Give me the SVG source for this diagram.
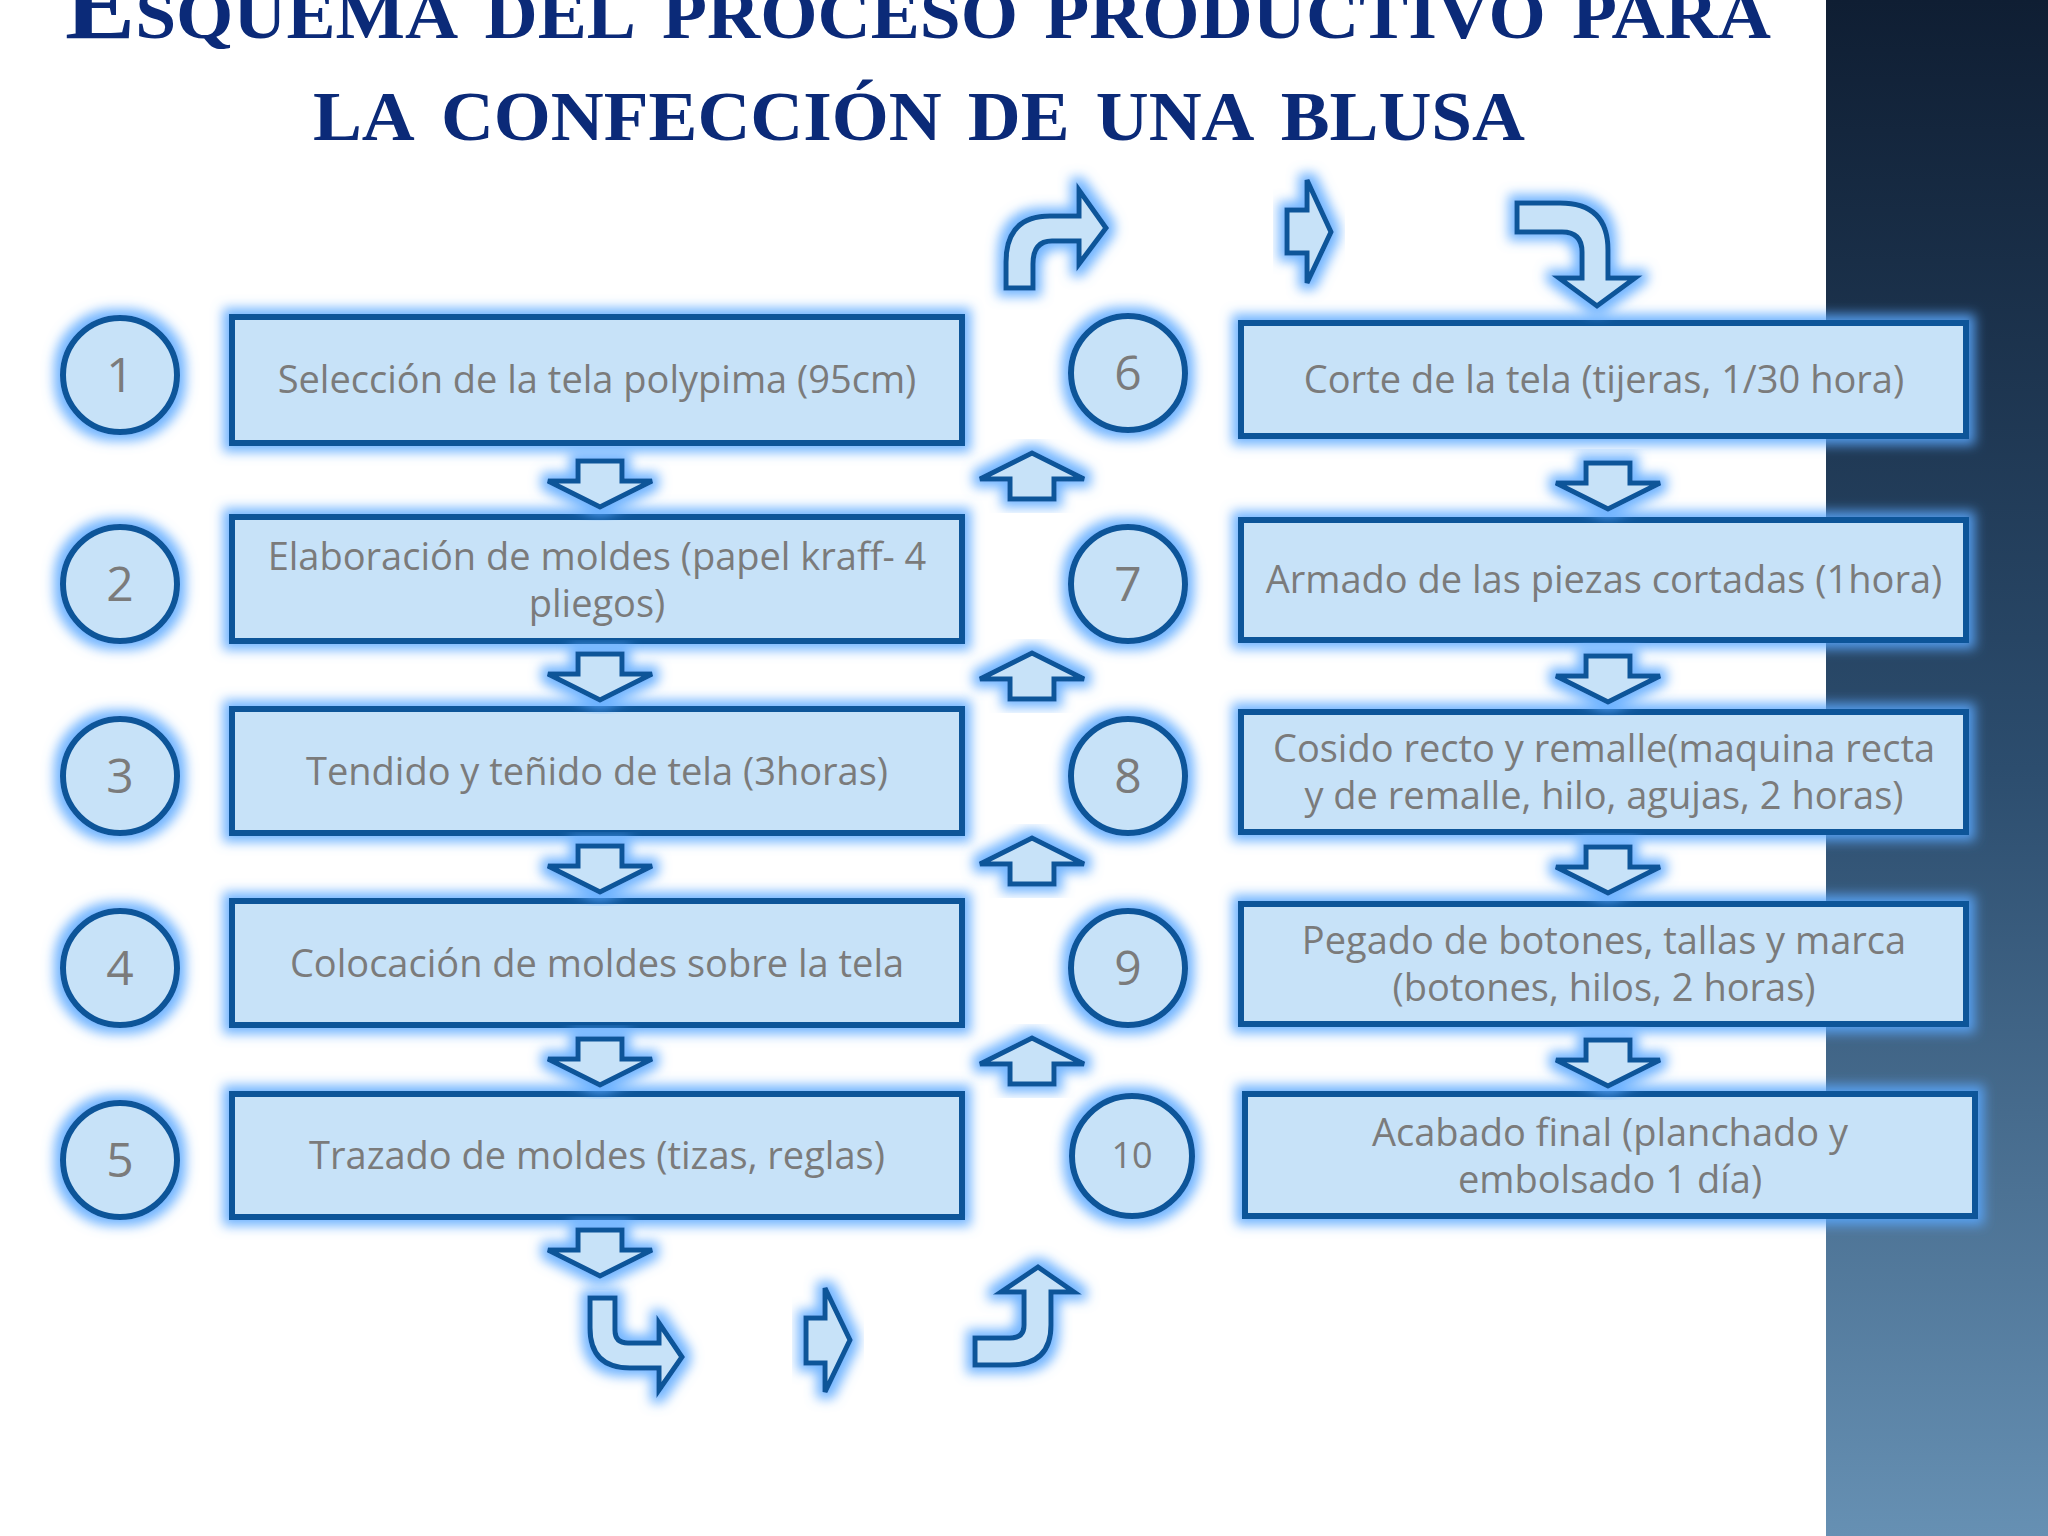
<svg xmlns="http://www.w3.org/2000/svg" width="2048" height="1536" viewBox="0 0 2048 1536">
<defs>
<linearGradient id="side" x1="0" y1="0" x2="0" y2="1"><stop offset="0" stop-color="#0f1e33"/><stop offset="0.5" stop-color="#2c4d6e"/><stop offset="1" stop-color="#6690b3"/></linearGradient>
<filter id="glow" x="-30%" y="-30%" width="160%" height="160%"><feMorphology in="SourceAlpha" operator="dilate" radius="6" result="d"/><feGaussianBlur in="d" stdDeviation="6" result="b"/><feFlood flood-color="#5aa8ff" flood-opacity="0.85"/><feComposite in2="b" operator="in" result="g"/><feMerge><feMergeNode in="g"/><feMergeNode in="SourceGraphic"/></feMerge></filter>
<path id="down" d="M-22,0 L22,0 L22,20 L52,20 L0,46 L-52,20 L-22,20 Z"/>
<path id="up" d="M-22,0 L22,0 L22,-20 L52,-20 L0,-46 L-52,-20 L-22,-20 Z"/>
</defs>
<style>
.s{fill:#c7e2f8;stroke:#0e5499;stroke-width:6;stroke-linejoin:miter;filter:url(#glow)}
.a{fill:#c7e2f8;stroke:#0e5499;stroke-width:5;stroke-linejoin:miter;filter:url(#glow)}
.t{font-family:"Open Sans","DejaVu Sans",sans-serif;font-size:38px;fill:#7b7b7b;text-anchor:middle}
.n{font-family:"Open Sans","DejaVu Sans",sans-serif;font-size:48px;fill:#7b7b7b;text-anchor:middle}
.h{font-family:"Liberation Serif",serif;font-weight:bold;font-variant:small-caps;font-size:100px;fill:#0b2a78;text-anchor:middle}
</style>
<rect width="2048" height="1536" fill="#ffffff"/>
<rect x="1826" y="0" width="222" height="1536" fill="url(#side)"/>
<text class="h" x="918" y="38" textLength="1706" lengthAdjust="spacingAndGlyphs">Esquema del proceso productivo para</text>
<text class="h" x="919" y="140" textLength="1212" lengthAdjust="spacingAndGlyphs">la confección de una blusa</text>

<g id="n1"><circle class="s" cx="120" cy="375" r="57"/><text class="n" x="120" y="392">1</text><rect class="s" x="232" y="317" width="730" height="126"/><text class="t" x="597" y="393">Selección de la tela polypima (95cm)</text></g>
<g id="n2"><circle class="s" cx="120" cy="584" r="57"/><text class="n" x="120" y="601">2</text><rect class="s" x="232" y="517" width="730" height="124"/><text class="t" x="597" y="570">Elaboración de moldes (papel kraff- 4</text><text class="t" x="597" y="617">pliegos)</text></g>
<g id="n3"><circle class="s" cx="120" cy="776" r="57"/><text class="n" x="120" y="793">3</text><rect class="s" x="232" y="709" width="730" height="124"/><text class="t" x="597" y="785">Tendido y teñido de tela (3horas)</text></g>
<g id="n4"><circle class="s" cx="120" cy="968" r="57"/><text class="n" x="120" y="985">4</text><rect class="s" x="232" y="901" width="730" height="124"/><text class="t" x="597" y="977">Colocación  de moldes sobre la tela</text></g>
<g id="n5"><circle class="s" cx="120" cy="1160" r="57"/><text class="n" x="120" y="1177">5</text><rect class="s" x="232" y="1094" width="730" height="123"/><text class="t" x="597" y="1169">Trazado de moldes (tizas, reglas)</text></g>
<g id="n6"><circle class="s" cx="1128" cy="373" r="57"/><text class="n" x="1128" y="390">6</text><rect class="s" x="1241" y="323" width="725" height="113"/><text class="t" x="1604" y="393">Corte de la tela (tijeras, 1/30 hora)</text></g>
<g id="n7"><circle class="s" cx="1128" cy="584" r="57"/><text class="n" x="1128" y="601">7</text><rect class="s" x="1241" y="520" width="725" height="120"/><text class="t" x="1604" y="593">Armado de las piezas cortadas (1hora)</text></g>
<g id="n8"><circle class="s" cx="1128" cy="776" r="57"/><text class="n" x="1128" y="793">8</text><rect class="s" x="1241" y="712" width="725" height="120"/><text class="t" x="1604" y="762">Cosido recto y remalle(maquina recta</text><text class="t" x="1604" y="809">y de remalle, hilo, agujas, 2 horas)</text></g>
<g id="n9"><circle class="s" cx="1128" cy="968" r="57"/><text class="n" x="1128" y="985">9</text><rect class="s" x="1241" y="904" width="725" height="120"/><text class="t" x="1604" y="954">Pegado de botones, tallas y marca</text><text class="t" x="1604" y="1001">(botones, hilos, 2 horas)</text></g>
<g id="n10"><circle class="s" cx="1132" cy="1156" r="60"/><text class="n" x="1132" y="1168" style="font-size:36px">10</text><rect class="s" x="1245" y="1094" width="730" height="122"/><text class="t" x="1610" y="1146">Acabado final (planchado y</text><text class="t" x="1610" y="1193">embolsado 1 día)</text></g>

<g id="connectors">
<use class="a" href="#down" x="600" y="461"/>
<use class="a" href="#down" x="600" y="654"/>
<use class="a" href="#down" x="600" y="846"/>
<use class="a" href="#down" x="600" y="1039"/>
<use class="a" href="#down" x="600" y="1230"/>
<use class="a" href="#down" x="1608" y="463"/>
<use class="a" href="#down" x="1608" y="656"/>
<use class="a" href="#down" x="1608" y="847"/>
<use class="a" href="#down" x="1608" y="1040"/>
<use class="a" href="#up" x="1032" y="499"/>
<use class="a" href="#up" x="1032" y="699"/>
<use class="a" href="#up" x="1032" y="884"/>
<use class="a" href="#up" x="1032" y="1084"/>
<path class="a" d="M1006,288 L1006,262 Q1006,216 1050,216 L1079,216 L1079,190 L1106,228 L1079,264 L1079,241 L1052,241 Q1033,241 1033,264 L1033,288 Z"/>
<path class="a" d="M1287,210 L1307,210 L1307,180 L1331,232 L1307,283 L1307,253 L1287,253 Z"/>
<path class="a" d="M1517,203 L1560,203 Q1608,203 1608,250 L1608,278 L1635,278 L1597,306 L1559,278 L1582,278 L1582,252 Q1582,232 1562,232 L1517,232 Z"/>
<path class="a" d="M590,1298 L615,1298 L615,1330 Q615,1343 628,1343 L659,1343 L659,1323 L682,1357 L659,1390 L659,1368 L630,1368 Q590,1368 590,1328 Z"/>
<path class="a" d="M806,1318 L825,1318 L825,1288 L850,1340 L825,1392 L825,1363 L806,1363 Z"/>
<path class="a" d="M975,1365 L1010,1365 Q1051,1365 1051,1325 L1051,1292 L1074,1292 L1038,1267 L1001,1292 L1024,1292 L1024,1325 Q1024,1338 1010,1338 L975,1338 Z"/>
</g>
</svg>
